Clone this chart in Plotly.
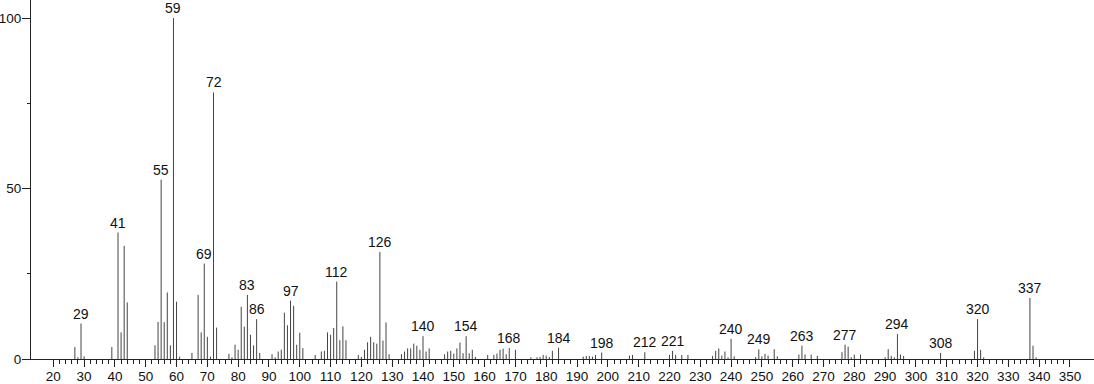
import plotly.graph_objects as go

# m/z values and relative intensities (%)
mz = [27, 28, 29, 30, 39, 41, 42, 43, 44, 53, 54, 55, 56, 57, 58, 59, 60, 61, 65, 67,
      68, 69, 70, 71, 72, 73, 77, 78, 79, 80, 81, 82, 83, 84, 85, 86, 87, 91, 92, 93,
      94, 95, 96, 97, 98, 99, 100, 101, 105, 107, 108, 109, 110, 111, 112, 113, 114, 115, 119, 120,
      121, 122, 123, 124, 125, 126, 127, 128, 129, 133, 134, 135, 136, 137, 138, 139, 140, 141, 142, 147,
      148, 149, 150, 151, 152, 153, 154, 155, 156, 157, 161, 163, 164, 165, 166, 167, 168, 170, 175, 177,
      178, 179, 180, 181, 182, 184, 192, 193, 194, 195, 196, 198, 207, 208, 212, 220, 221, 222, 224, 226,
      234, 235, 236, 237, 238, 239, 240, 241, 248, 249, 250, 251, 252, 254, 255, 262, 263, 264, 266, 268,
      276, 277, 278, 279, 280, 282, 290, 291, 292, 293, 294, 295, 296, 308, 319, 320, 321, 322, 337, 338,
      339]
intensity = [3.5, 0.5, 10.4, 0.8, 3.5, 37.1, 7.8, 33.2, 16.6, 4.0, 10.9, 52.6, 10.8, 19.5, 4.0, 100.0, 16.8, 0.7, 1.8, 18.8,
             7.8, 28.0, 6.5, 0.7, 78.2, 9.2, 1.5, 0.5, 4.2, 2.7, 15.3, 9.5, 18.8, 7.1, 4.0, 11.7, 1.8, 1.4, 0.5, 2.2,
             2.7, 13.6, 9.9, 17.1, 15.6, 4.2, 7.7, 3.2, 1.2, 2.2, 2.4, 7.8, 7.1, 9.1, 22.7, 5.5, 9.6, 5.5, 1.2, 0.6,
             2.7, 4.9, 6.5, 4.9, 4.5, 31.4, 5.4, 10.7, 1.4, 1.4, 2.2, 3.1, 3.1, 4.5, 3.9, 2.7, 6.7, 2.2, 3.1, 1.4,
             2.2, 2.4, 1.6, 3.1, 4.8, 1.7, 6.7, 1.7, 2.7, 0.6, 1.2, 1.2, 1.6, 2.7, 3.0, 1.4, 3.2, 2.7, 0.5, 0.5,
             0.6, 1.2, 1.0, 0.6, 2.4, 3.3, 0.7, 0.9, 0.9, 0.7, 1.2, 1.9, 1.0, 1.2, 2.0, 1.2, 2.4, 1.2, 1.2, 1.2,
             0.9, 2.4, 3.1, 1.0, 2.2, 0.5, 5.9, 0.8, 0.6, 2.8, 0.8, 1.5, 1.0, 2.9, 0.8, 1.3, 3.9, 1.3, 1.3, 0.9,
             2.0, 4.2, 3.6, 0.5, 1.3, 1.3, 0.5, 2.9, 0.9, 0.5, 7.3, 1.3, 0.9, 1.8, 2.4, 11.7, 2.7, 0.5, 17.9, 3.9,
             0.5]

# peaks carrying an m/z label
labeled_mz = [29, 41, 55, 59, 69, 72, 83, 86, 97, 112, 126, 140, 154, 168, 184, 198,
              212, 221, 240, 249, 263, 277, 294, 308, 320, 337]

x_major = list(range(20, 351, 10))
x_minor = [v for v in range(22, 350, 2) if v % 10 != 0]
y_major = [0, 50, 100]
y_minor = [25, 75]

FONT = "Liberation Sans, Arial, Helvetica, sans-serif"

xs, ys = [], []
for m, v in zip(mz, intensity):
    xs += [m, m, None]
    ys += [0, v, None]

fig = go.Figure()
fig.add_trace(go.Scatter(x=xs, y=ys, mode="lines",
                         line=dict(color="#444444", width=1),
                         hoverinfo="skip", showlegend=False))

lookup = dict(zip(mz, intensity))
for m in labeled_mz:
    fig.add_annotation(x=m, y=lookup[m], text=str(m), showarrow=False,
                       xanchor="center", yanchor="bottom", yshift=0,
                       font=dict(family=FONT, size=14, color="#111111"))

fig.update_layout(
    width=1094, height=384,
    margin=dict(l=31, r=0, t=0, b=25),
    paper_bgcolor="white", plot_bgcolor="white",
    font=dict(family=FONT, size=13.5, color="#111111"),
    xaxis=dict(range=[12.76, 357.8], showgrid=False, zeroline=False, automargin=False,
               showline=True, linecolor="#222222", linewidth=1,
               tickmode="array", tickvals=x_major, ticktext=[str(v) for v in x_major],
               ticks="outside", ticklen=7, tickwidth=1, tickcolor="#222222",
               ticklabelstandoff=-2,
               minor=dict(tickmode="array", tickvals=x_minor, ticks="outside",
                          ticklen=4, tickwidth=1, tickcolor="#222222"),
               fixedrange=True),
    yaxis=dict(range=[0, 105.3], showgrid=False, zeroline=False, automargin=False,
               showline=True, linecolor="#222222", linewidth=1,
               tickmode="array", tickvals=y_major, ticktext=[str(v) for v in y_major],
               ticks="outside", ticklen=8, tickwidth=1, tickcolor="#222222",
               ticklabelstandoff=-2,
               minor=dict(tickmode="array", tickvals=y_minor, ticks="outside",
                          ticklen=3, tickwidth=1, tickcolor="#222222"),
               fixedrange=True),
)

fig.write_html("out.html")
